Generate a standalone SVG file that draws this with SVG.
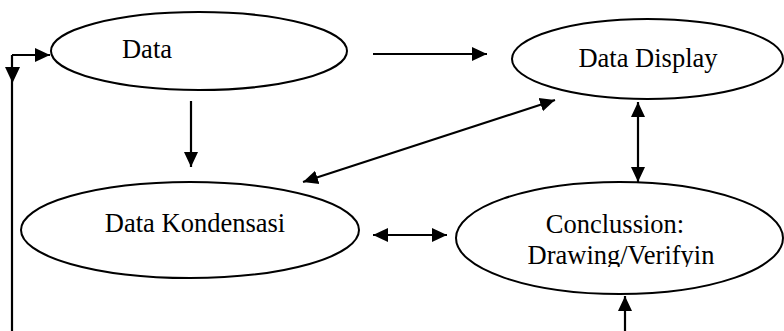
<svg xmlns="http://www.w3.org/2000/svg" width="784" height="331" viewBox="0 0 784 331">
<style>
.node{fill:#fff;stroke:#000;stroke-width:2}
.lbl{font-family:"Liberation Serif","Times New Roman",serif;font-size:26.5px;fill:#000;text-anchor:middle}
.con{stroke:#000;stroke-width:2.2;fill:none}
</style>
<defs>
<marker id="ah" markerUnits="userSpaceOnUse" markerWidth="16" markerHeight="16" viewBox="0 0 16 16" refX="15" refY="8" orient="auto-start-reverse">
<path d="M0,1 L15,8 L0,15 Z" fill="#000"/>
</marker>
<clipPath id="clipC"><rect x="440" y="180" width="344" height="87"/></clipPath>
</defs>
<rect width="784" height="331" fill="#fff"/>
<g id="n-data">
<ellipse class="node" cx="199" cy="51" rx="148" ry="39"/>
<text class="lbl" x="147" y="58">Data</text>
</g>
<g id="n-display">
<ellipse class="node" cx="647.5" cy="59" rx="135.5" ry="40"/>
<text class="lbl" x="648" y="67">Data Display</text>
</g>
<g id="n-kondensasi">
<ellipse class="node" cx="190" cy="230" rx="169" ry="48"/>
<text class="lbl" x="195" y="232">Data Kondensasi</text>
</g>
<g id="n-conclusion">
<ellipse class="node" cx="619.5" cy="238" rx="163.5" ry="56"/>
<text class="lbl" x="615" y="233">Conclussion:</text>
<text class="lbl" x="621" y="264" clip-path="url(#clipC)">Drawing/Verifyin</text>
</g>
<g id="connectors">
<line class="con" x1="12" y1="331" x2="12" y2="55"/>
<line class="con" x1="12" y1="55" x2="50" y2="55" marker-end="url(#ah)"/>
<path d="M5,67 L20,67 L12.5,83 Z" fill="#000"/>
<line class="con" x1="191" y1="101" x2="191" y2="167" marker-end="url(#ah)"/>
<line class="con" x1="373" y1="54" x2="487" y2="54" marker-end="url(#ah)"/>
<line class="con" x1="303" y1="182" x2="555" y2="100" marker-start="url(#ah)" marker-end="url(#ah)"/>
<line class="con" x1="638" y1="102" x2="638" y2="182" marker-start="url(#ah)" marker-end="url(#ah)"/>
<line class="con" x1="373" y1="235" x2="447" y2="235" marker-start="url(#ah)" marker-end="url(#ah)"/>
<line class="con" x1="625" y1="331" x2="625" y2="296" marker-end="url(#ah)"/>
</g>
</svg>
